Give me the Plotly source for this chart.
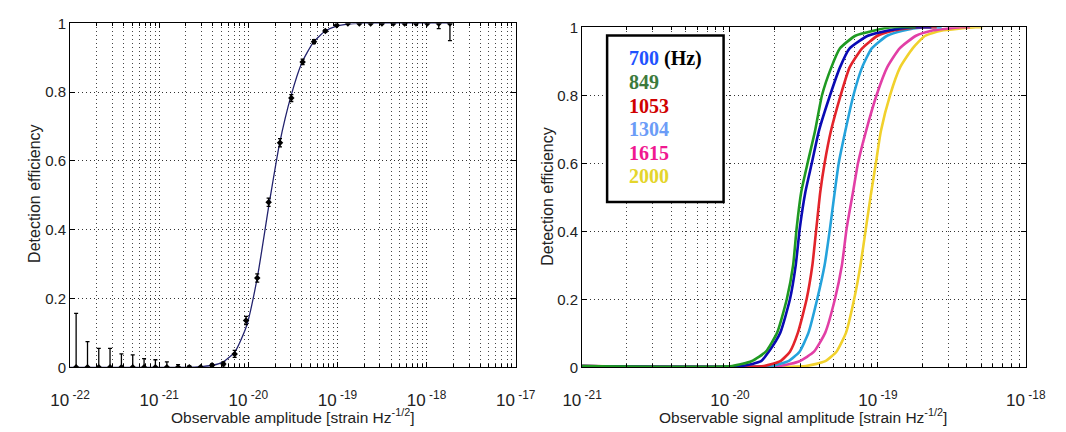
import plotly.graph_objects as go

# ---------------- left panel: measured detection efficiency ----------------
amp_points = [1.17e-22, 1.57e-22, 2.10e-22, 2.81e-22, 3.77e-22, 5.05e-22, 6.77e-22,
              9.07e-22, 1.22e-21, 1.63e-21, 2.18e-21, 2.92e-21, 3.92e-21, 5.25e-21,
              7.03e-21, 9.44e-21, 1.26e-20, 1.69e-20, 2.27e-20, 3.04e-20, 4.07e-20,
              5.46e-20, 7.31e-20, 9.81e-20, 1.31e-19, 1.76e-19, 2.36e-19, 3.16e-19,
              4.24e-19, 5.68e-19, 7.61e-19, 1.02e-18, 1.37e-18, 1.83e-18]
eff_points = [0.0, 0.0, 0.0, 0.0, 0.0, 0.0, 0.0,
              0.0, 0.0, 0.0, 0.0, 0.0, 0.006, 0.01,
              0.039, 0.136, 0.26, 0.48, 0.653, 0.783, 0.888,
              0.947, 0.978, 0.995, 1.0, 1.0, 1.0, 1.0,
              1.0, 1.0, 1.0, 1.0, 1.0, 1.0]
err_hi = [0.157, 0.075, 0.055, 0.055, 0.039, 0.036, 0.025,
          0.022, 0.016, 0.008, 0.004, 0.003, 0.004, 0.006,
          0.01, 0.012, 0.012, 0.012, 0.012, 0.01, 0.008,
          0.006, 0.004, 0.003, 0.0, 0.0, 0.0, 0.0,
          0.0, 0.0, 0.0, 0.0, 0.0, 0.0]
err_lo = [0.0, 0.0, 0.0, 0.0, 0.0, 0.0, 0.0,
          0.0, 0.0, 0.0, 0.0, 0.0, 0.004, 0.006,
          0.01, 0.012, 0.012, 0.012, 0.012, 0.01, 0.008,
          0.006, 0.004, 0.003, 0.0, 0.0, 0.0, 0.0,
          0.0, 0.0, 0.0, 0.0, 0.015, 0.05]

# sigmoid fit through the measured points
fit_amp = [1e-22, 2.00e-21, 3.16e-21, 3.98e-21, 5.25e-21, 7.08e-21, 9.55e-21,
           1.26e-20, 1.70e-20, 2.24e-20, 3.02e-20, 3.98e-20, 5.37e-20, 7.24e-20,
           9.77e-20, 1.32e-19, 1.78e-19, 1.83e-18]
fit_eff = [0.0, 0.0, 0.003, 0.006, 0.016, 0.045, 0.12,
           0.26, 0.47, 0.65, 0.79, 0.885, 0.945, 0.977,
           0.992, 0.998, 1.0, 1.0]

# ---------------- right panel: efficiency per central frequency ----------------
freq_labels = ["700", "849", "1053", "1304", "1615", "2000"]
curve_eff = [0.004, 0.004, 0.018, 0.046, 0.102, 0.2, 0.30, 0.41, 0.515,
             0.6, 0.694, 0.8, 0.882, 0.938, 0.975, 0.99, 1.0, 1.0]
amp_700 = [1e-21, 1.202e-20, 1.623e-20, 1.829e-20, 2.189e-20, 2.543e-20, 2.782e-20,
           2.967e-20, 3.232e-20, 3.573e-20, 3.986e-20, 4.750e-20, 5.542e-20, 6.44e-20,
           8.558e-20, 1.155e-19, 1.704e-19, 2.3e-19]
amp_849 = [1e-21, 1.035e-20, 1.397e-20, 1.748e-20, 2.084e-20, 2.421e-20, 2.672e-20,
           2.824e-20, 3.030e-20, 3.345e-20, 3.754e-20, 4.188e-20, 4.844e-20, 5.542e-20,
           7.044e-20, 9.363e-20, 1.226e-19, 1.8e-19]
amp_1053 = [1e-21, 1.697e-20, 2.189e-20, 2.543e-20, 2.879e-20, 3.296e-20, 3.605e-20,
            3.839e-20, 4.077e-20, 4.361e-20, 4.808e-20, 5.600e-20, 6.44e-20, 7.822e-20,
            9.94e-20, 1.263e-19, 1.865e-19, 2.5e-19]
amp_1304 = [1e-21, 1.885e-20, 2.480e-20, 2.953e-20, 3.396e-20, 3.886e-20, 4.361e-20,
            4.750e-20, 5.105e-20, 5.435e-20, 6.017e-20, 6.835e-20, 7.822e-20, 9.086e-20,
            1.155e-19, 1.468e-19, 2.071e-19, 2.7e-19]
amp_1615 = [1e-21, 2.189e-20, 2.953e-20, 3.698e-20, 4.407e-20, 5.120e-20, 5.710e-20,
            6.154e-20, 6.785e-20, 7.334e-20, 8.305e-20, 9.79e-20, 1.155e-19, 1.403e-19,
            1.810e-19, 2.300e-19, 3.605e-19, 4.2e-19]
amp_2000 = [1e-21, 3.266e-20, 4.407e-20, 5.244e-20, 6.091e-20, 6.908e-20, 7.626e-20,
            8.305e-20, 9.018e-20, 9.690e-20, 1.047e-19, 1.208e-19, 1.413e-19, 1.718e-19,
            2.087e-19, 2.672e-19, 4.581e-19, 5.09e-19]

line_colors = {"700": "#0a0ab4", "849": "#1f9a22", "1053": "#e3242b",
               "1304": "#25a3dc", "1615": "#e23fa6", "2000": "#f1d12c"}
label_colors = {"700": "#1f52ff", "849": "#3c7a3c", "1053": "#d00000",
                "1304": "#6b9cf7", "1615": "#f01890", "2000": "#e4d52c"}
curve_amps = {"700": amp_700, "849": amp_849, "1053": amp_1053,
              "1304": amp_1304, "1615": amp_1615, "2000": amp_2000}

FONT = "Liberation Sans, Arial, sans-serif"
W, H = 1066, 432

fig = go.Figure()

fig.add_trace(go.Scatter(
    x=fit_amp, y=fit_eff, mode="lines", line=dict(color="#23236e", width=1.3, shape="spline", smoothing=0.6),
    xaxis="x", yaxis="y", showlegend=False, hoverinfo="skip"))
fig.add_trace(go.Scatter(
    x=amp_points, y=eff_points, mode="markers",
    marker=dict(color="black", size=5, symbol="diamond"),
    error_y=dict(type="data", array=err_hi, arrayminus=err_lo, symmetric=False,
                 color="black", thickness=1.3, width=2),
    xaxis="x", yaxis="y", showlegend=False))

# draw the lowest frequency last so its trace stays on top along the baseline
for f in ["2000", "1615", "1304", "1053", "700", "849"]:
    fig.add_trace(go.Scatter(
        x=curve_amps[f], y=curve_eff, mode="lines", name=f + " Hz",
        line=dict(color=line_colors[f], width=2.6, shape="spline", smoothing=0.5),
        xaxis="x2", yaxis="y2", showlegend=False))


def minor_vals(e0, e1):
    vals = []
    for e in range(e0, e1):
        for m in range(2, 10):
            vals.append(m * 10.0 ** e)
    return vals


grid_common = dict(showgrid=True, gridcolor="#333333", griddash="1px,3px", gridwidth=1,
                   showline=True, linecolor="black", linewidth=1, mirror="ticks",
                   ticks="inside", ticklen=5, tickcolor="black", zeroline=False)

x_left = dict(grid_common, type="log", range=[-22, -17], domain=[52 / W, 515 / W], anchor="y",
              tickvals=[10.0 ** e for e in range(-22, -16)],
              ticktext=["10<sup> -%d</sup>" % -e for e in range(-22, -16)],
              tickfont=dict(family=FONT, size=17, color="#222"), ticklabelstandoff=17,
              minor=dict(tickvals=minor_vals(-22, -17), showgrid=True, gridcolor="#444444",
                         griddash="1px,3px", ticks="inside", ticklen=3, tickcolor="black"))
x_right = dict(grid_common, type="log", range=[-21, -18], domain=[584 / W, 1045 / W], anchor="y2",
               tickvals=[10.0 ** e for e in range(-21, -17)],
               ticktext=["10<sup> -%d</sup>" % -e for e in range(-21, -17)],
               tickfont=dict(family=FONT, size=17, color="#222"), ticklabelstandoff=17,
               minor=dict(tickvals=minor_vals(-21, -18), showgrid=True, gridcolor="#444444",
                          griddash="1px,3px", ticks="inside", ticklen=3, tickcolor="black"))
y_left = dict(grid_common, range=[0, 1], domain=[(H - 373) / H, (H - 15) / H], anchor="x",
              tickvals=[0, 0.2, 0.4, 0.6, 0.8, 1], ticktext=["0", "0.2", "0.4", "0.6", "0.8", "1"],
              tickfont=dict(family=FONT, size=15, color="#222"))
y_right = dict(grid_common, range=[0, 1], domain=[(H - 373) / H, (H - 19) / H], anchor="x2",
               tickvals=[0, 0.2, 0.4, 0.6, 0.8, 1], ticktext=["0", "0.2", "0.4", "0.6", "0.8", "1"],
               tickfont=dict(family=FONT, size=15, color="#222"))

annotations = [
    dict(text="Observable amplitude [strain Hz<sup>-1/2</sup>]", x=283.5 / W, y=(H - 424) / H,
         xref="paper", yref="paper", showarrow=False, xanchor="center", yanchor="middle",
         font=dict(family=FONT, size=15.5, color="#222")),
    dict(text="Observable signal amplitude [strain Hz<sup>-1/2</sup>]", x=814 / W, y=(H - 424) / H,
         xref="paper", yref="paper", showarrow=False, xanchor="center", yanchor="middle",
         font=dict(family=FONT, size=15.5, color="#222")),
    dict(text="Detection efficiency", x=15 / W, y=(H - 192) / H, textangle=-90,
         xref="paper", yref="paper", showarrow=False, xanchor="center", yanchor="middle",
         font=dict(family=FONT, size=16, color="#222")),
    dict(text="Detection efficiency", x=548 / W, y=(H - 195) / H, textangle=-90,
         xref="paper", yref="paper", showarrow=False, xanchor="center", yanchor="middle",
         font=dict(family=FONT, size=16, color="#222")),
]

# frequency key drawn as a boxed list of coloured labels
key_rows = [0.9068, 0.8379, 0.7689, 0.7000, 0.6311, 0.5621]
for f, yy in zip(freq_labels, key_rows):
    txt = "<span style='color:%s'>%s</span>" % (label_colors[f], f)
    if f == "700":
        txt += " (Hz)"
    annotations.append(dict(text="<b>" + txt + "</b>", x=0.102, y=yy, xref="x2 domain", yref="y2 domain",
                            showarrow=False, xanchor="left", yanchor="middle",
                            font=dict(family="Liberation Serif, Times New Roman, serif", size=20, color="black")))

fig.update_layout(
    width=W, height=H, margin=dict(l=0, r=0, t=0, b=0),
    paper_bgcolor="white", plot_bgcolor="white",
    xaxis=x_left, yaxis=y_left, xaxis2=x_right, yaxis2=y_right,
    annotations=annotations,
    shapes=[dict(type="rect", xref="x2 domain", yref="y2 domain",
                 x0=0.0564, x1=0.3189, y0=0.4859, y1=0.9754,
                 line=dict(color="black", width=2.5), fillcolor="white", layer="above")],
)

fig.write_html("out.html")
